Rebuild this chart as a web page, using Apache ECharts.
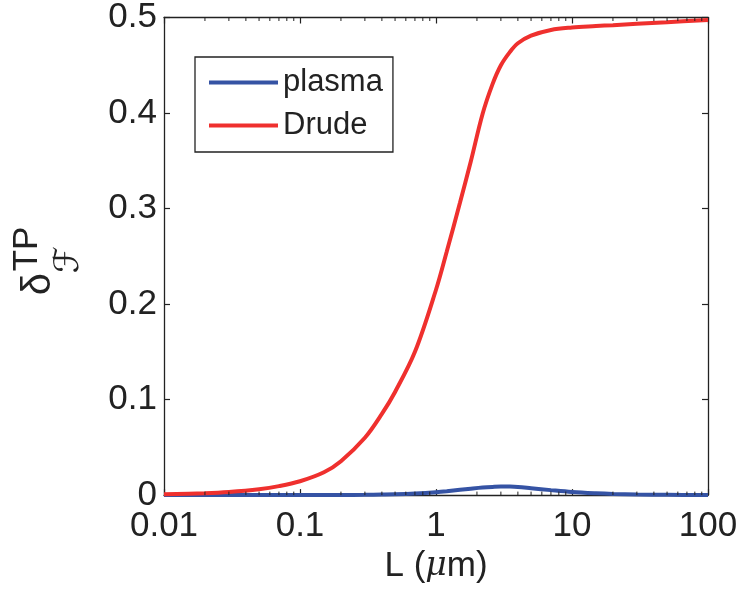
<!DOCTYPE html>
<html>
<head>
<meta charset="utf-8">
<script src="https://cdn.jsdelivr.net/npm/echarts@6/dist/echarts.min.js"></script>
<style>
  html, body { margin: 0; padding: 0; background: #fff; }
  #chart { width: 742px; height: 589px; }
</style>
</head>
<body>
<div id="chart"></div>
<script>
// Separation L in micrometres (log scale)
const L = [0.01, 0.02, 0.03, 0.05, 0.07, 0.1, 0.15, 0.2, 0.3, 0.4, 0.5, 0.7, 1, 1.2, 1.5, 1.8, 2.2, 2.6, 3, 3.5, 4, 5, 7, 10, 15, 20, 30, 50, 100];
// Relative thermal correction, plasma model
const plasma = [0, 0, 0, 0, 0, 0, 0.00005, 0.0001, 0.0003, 0.0006, 0.0009, 0.0017, 0.003, 0.004, 0.0055, 0.0067, 0.0079, 0.0086, 0.009, 0.0089, 0.0085, 0.0072, 0.0052, 0.0033, 0.0019, 0.0012, 0.0006, 0.0003, 0.0001];
// Relative thermal correction, Drude model
const drude = [0.0008, 0.002, 0.0033, 0.0062, 0.0094, 0.0145, 0.0239, 0.0355, 0.060, 0.085, 0.108, 0.150, 0.215, 0.255, 0.306, 0.349, 0.399, 0.430, 0.450, 0.464, 0.473, 0.481, 0.487, 0.4895, 0.491, 0.492, 0.4935, 0.495, 0.4975];

const xTickLabels = ['0.01', '0.1', '1', '10', '100'];
const decades = [0.01, 0.1, 1, 10];
const yTickLabels = ['0', '0.1', '0.2', '0.3', '0.4', '0.5'];

// minor tick positions 2..9 within each decade
const minorTicks = [];
decades.forEach(d => { for (let k = 2; k <= 9; k++) minorTicks.push(+(d * k).toPrecision(3)); });

const FONT = '"Liberation Sans", Arial, Helvetica, sans-serif';
const INK = '#222';
const BLUE = '#3553a4';
const RED = '#ef302e';

const chart = echarts.init(document.getElementById('chart'), null, { renderer: 'canvas' });

const pairs = arr => L.map((x, i) => [x, arr[i]]);

const axisLine = { show: true, onZero: false, lineStyle: { color: INK, width: 1.3 } };
const majorTick = { show: true, inside: true, length: 6, lineStyle: { color: INK, width: 1.2 } };

chart.setOption({
  animation: false,
  backgroundColor: '#fff',
  grid: { left: 164, right: 34, top: 17, bottom: 92.5, containLabel: false },
  legend: {
    orient: 'vertical',
    left: 195,
    top: 57,
    padding: [10, 10, 11, 14],
    itemGap: 12,
    itemWidth: 69,
    itemHeight: 4,
    icon: 'rect',
    borderColor: INK,
    borderWidth: 1.3,
    backgroundColor: '#fff',
    textStyle: { fontFamily: FONT, fontSize: 31, color: INK, lineHeight: 30 },
    data: ['plasma', 'Drude']
  },
  xAxis: [
    {
      type: 'log', logBase: 10, min: 0.01, max: 100, position: 'bottom',
      axisLine: axisLine,
      axisTick: majorTick,
      splitLine: { show: false },
      axisLabel: {
        fontFamily: FONT, fontSize: 35, color: INK, margin: 14,
        formatter: v => {
          const i = Math.round(Math.log10(v)) + 2;
          return xTickLabels[i] !== undefined ? xTickLabels[i] : '';
        }
      },
      name: 'L ({mu|μ}m)',
      nameLocation: 'middle',
      nameGap: 52,
      nameTextStyle: {
        fontFamily: FONT, fontSize: 35, color: INK,
        rich: { mu: { fontFamily: '"DejaVu Serif", serif', fontStyle: 'italic', fontSize: 33, color: INK } }
      }
    },
    {
      type: 'log', logBase: 10, min: 0.01, max: 100, position: 'top',
      axisLine: axisLine,
      axisTick: majorTick,
      axisLabel: { show: false },
      splitLine: { show: false }
    }
  ],
  yAxis: [
    {
      type: 'value', min: 0, max: 0.5, interval: 0.1, position: 'left',
      axisLine: axisLine,
      axisTick: majorTick,
      splitLine: { show: false },
      axisLabel: {
        fontFamily: FONT, fontSize: 35, color: INK, margin: 7,
        formatter: v => yTickLabels[Math.round(v * 10)]
      }
    },
    {
      type: 'value', min: 0, max: 0.5, interval: 0.1, position: 'right',
      axisLine: axisLine,
      axisTick: majorTick,
      axisLabel: { show: false },
      splitLine: { show: false }
    }
  ],
  series: [
    {
      name: 'plasma', type: 'line', xAxisIndex: 0, yAxisIndex: 0,
      data: pairs(plasma), showSymbol: false, symbol: 'none', smooth: 0.35,
      lineStyle: { color: BLUE, width: 4 }, itemStyle: { color: BLUE }, z: 3
    },
    {
      name: 'Drude', type: 'line', xAxisIndex: 0, yAxisIndex: 0,
      data: pairs(drude), showSymbol: false, symbol: 'none', smooth: 0.35,
      lineStyle: { color: RED, width: 4 }, itemStyle: { color: RED }, z: 4
    },
    {
      // minor ticks of the logarithmic axis, on the bottom and top edges
      type: 'custom', xAxisIndex: 0, yAxisIndex: 0, silent: true, clip: false, z: 5,
      data: minorTicks.map(v => [v, 0]),
      renderItem: (params, api) => {
        const x = api.coord([api.value(0), 0])[0];
        const cs = params.coordSys;
        const top = cs.y, bottom = cs.y + cs.height;
        const st = { stroke: INK, lineWidth: 1 };
        return {
          type: 'group',
          children: [
            { type: 'line', shape: { x1: x, y1: bottom, x2: x, y2: bottom - 3.5 }, style: st },
            { type: 'line', shape: { x1: x, y1: top, x2: x, y2: top + 3.5 }, style: st }
          ]
        };
      }
    }
  ],
  // rotated y-axis title: delta with script-F subscript and TP superscript
  graphic: [
    {
      type: 'text', x: 39, y: 284, rotation: Math.PI / 2,
      style: { text: 'δ', fontSize: 40, fontFamily: FONT, fill: INK, align: 'center', verticalAlign: 'middle' }
    },
    {
      type: 'text', x: 27, y: 249, rotation: Math.PI / 2,
      style: { text: 'TP', fontSize: 35, fontFamily: FONT, fill: INK, align: 'center', verticalAlign: 'middle' }
    },
    {
      type: 'text', x: 69, y: 260, rotation: Math.PI / 2,
      style: { text: 'ℱ', fontSize: 34, fontFamily: '"DejaVu Serif", "DejaVu Sans", serif', fontStyle: 'italic', fill: INK, align: 'center', verticalAlign: 'middle' }
    }
  ]
});
</script>
</body>
</html>
